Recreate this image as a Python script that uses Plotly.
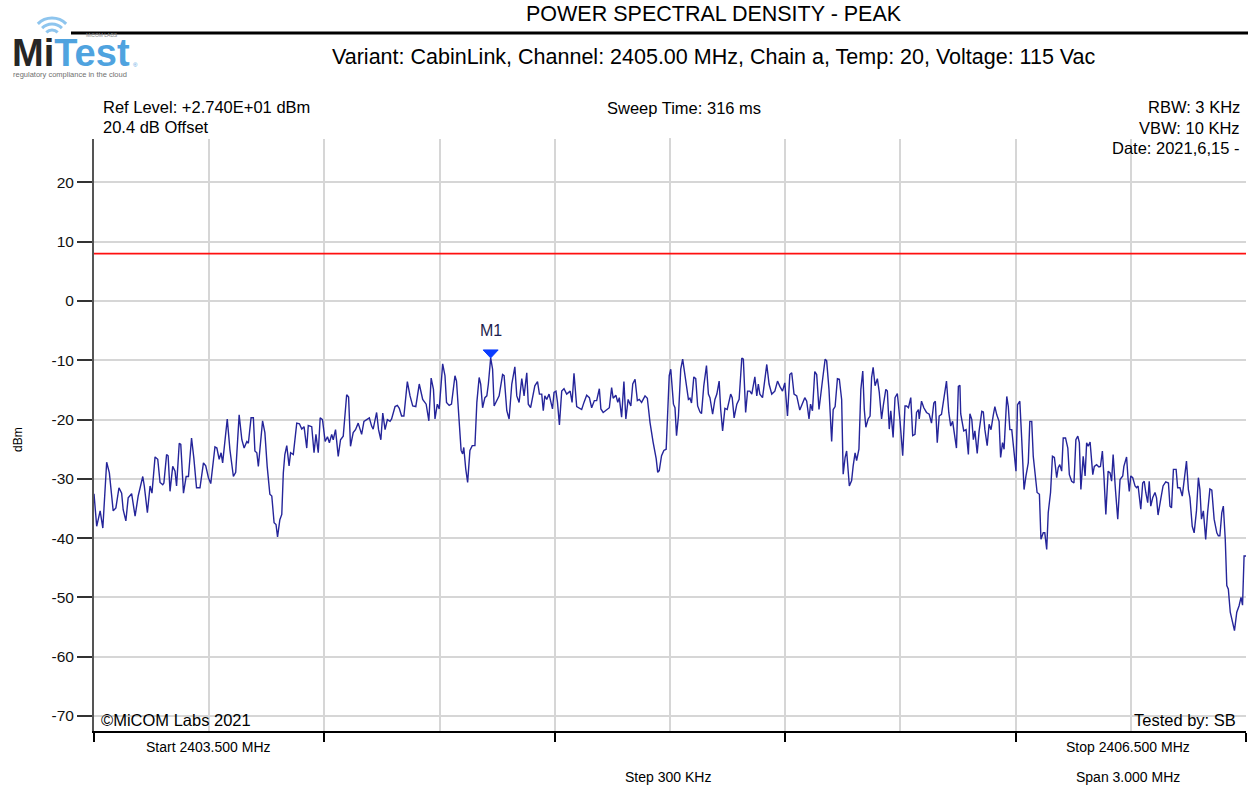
import plotly.graph_objects as go

# ---------------- data ----------------
start_mhz = 2403.5
stop_mhz = 2406.5
center_mhz = 2405.0
limit_dbm = 8.0
ref_level_dbm = 27.4

offset_khz = [
    0, 7, 16, 23, 33, 40, 50, 57, 65, 72, 76, 83, 89, 98, 107, 115, 127, 131, 139, 146,
    151, 159, 166, 172, 179, 182, 189, 193, 198, 205, 211, 215, 222, 226, 233, 240, 246, 254, 260, 267,
    276, 285, 291, 298, 304, 315, 320, 326, 331, 335, 347, 354, 363, 369, 378, 385, 391, 398, 402, 409,
    415, 419, 424, 428, 439, 445, 451, 458, 463, 469, 474, 478, 484, 489, 493, 497, 502, 508, 512, 519,
    528, 535, 541, 547, 554, 558, 567, 573, 578, 584, 589, 595, 602, 608, 613, 619, 623, 629, 636, 642,
    649, 658, 663, 668, 675, 681, 688, 697, 703, 710, 717, 723, 727, 736, 741, 747, 752, 758, 764, 771,
    775, 784, 790, 795, 801, 807, 816, 823, 830, 838, 847, 856, 865, 872, 878, 884, 888, 894, 899, 908,
    914, 918, 925, 931, 940, 944, 950, 956, 960, 963, 968, 973, 979, 985, 992, 997, 1003, 1007, 1012, 1018,
    1023, 1027, 1033, 1038, 1042, 1049, 1055, 1064, 1068, 1075, 1081, 1088, 1096, 1101, 1107, 1114, 1120, 1127, 1131, 1137,
    1144, 1148, 1155, 1160, 1166, 1170, 1174, 1179, 1185, 1190, 1194, 1198, 1203, 1207, 1212, 1218, 1224, 1231, 1240, 1245,
    1250, 1257, 1264, 1270, 1276, 1283, 1290, 1296, 1303, 1309, 1316, 1320, 1326, 1333, 1342, 1348, 1352, 1359, 1364, 1368,
    1374, 1380, 1385, 1391, 1398, 1403, 1409, 1415, 1420, 1426, 1435, 1441, 1448, 1456, 1464, 1468, 1472, 1478, 1484, 1490,
    1494, 1498, 1502, 1509, 1513, 1517, 1522,
    1528, 1533, 1539, 1548, 1552, 1556, 1562, 1567, 1572, 1578, 1582, 1588, 1595, 1600, 1604, 1611, 1617, 1622, 1628, 1632,
    1637, 1643, 1649, 1658, 1662, 1667, 1674, 1680, 1687, 1691, 1697, 1702, 1708, 1713, 1721, 1726, 1730, 1734, 1741, 1746,
    1752, 1758, 1765, 1773, 1780, 1786, 1793, 1799, 1806, 1812, 1817, 1823, 1830, 1838, 1845, 1851, 1856, 1862, 1866, 1871,
    1877, 1882, 1888, 1893, 1898, 1904, 1908, 1914, 1921, 1925, 1930, 1936, 1941, 1947, 1951, 1956, 1960, 1967, 1973, 1977,
    1982, 1986, 1992, 1997, 2002, 2006, 2010, 2016, 2021, 2025, 2029, 2034, 2040, 2045, 2051, 2056, 2062, 2066, 2071, 2075,
    2081, 2086, 2092, 2099, 2106, 2112, 2116, 2121, 2127, 2132, 2138, 2142, 2147, 2149, 2155, 2161, 2168, 2175, 2181, 2187,
    2191, 2196, 2201, 2207, 2213, 2220, 2226, 2231, 2236, 2242, 2246, 2251, 2255,
    2257, 2262, 2265, 2271, 2277, 2281, 2286, 2290, 2294, 2300, 2305, 2312, 2316, 2320, 2326, 2331, 2336, 2342, 2346, 2351,
    2357, 2361, 2366, 2370, 2377, 2381, 2385, 2390, 2394, 2401, 2405, 2411, 2416, 2422, 2427, 2433, 2437, 2442, 2446, 2452,
    2456, 2462, 2466, 2472, 2476, 2481, 2485, 2491, 2496, 2501, 2507, 2511, 2515, 2520, 2524, 2530, 2536, 2540, 2546, 2552,
    2557, 2562, 2566, 2570, 2576, 2581, 2585, 2589, 2594, 2601, 2605, 2611, 2617, 2621, 2626, 2630, 2635, 2641, 2646, 2650,
    2654, 2660, 2666, 2672, 2679, 2682, 2689, 2693, 2696, 2700, 2705, 2711, 2715, 2719, 2726, 2731, 2735, 2739, 2744, 2748,
    2752, 2757, 2763, 2767, 2771, 2778, 2784, 2791, 2798, 2802, 2806, 2811, 2818, 2822, 2828, 2834, 2840, 2845, 2850, 2854,
    2860, 2865, 2871, 2876, 2880, 2884, 2889, 2895, 2900, 2906, 2911, 2917, 2924, 2928, 2932, 2937, 2941, 2946, 2950, 2954,
    2959, 2964, 2970, 2976, 2982, 2987, 2991, 2995, 3000,
]

level_dbm = [
    -32.5, -38.0, -35.4, -38.3, -27.2, -29.0, -35.4, -34.9, -31.5, -32.4, -35.2, -37.1, -33.2, -32.5, -36.3, -32.9, -29.6, -31.2, -35.7, -31.2,
    -32.4, -26.3, -26.7, -30.6, -31.0, -30.7, -25.9, -26.1, -32.1, -27.9, -28.7, -31.2, -24.0, -24.2, -32.4, -29.6, -29.6, -23.1, -26.5, -31.5,
    -31.5, -27.3, -27.8, -29.8, -30.8, -24.6, -24.8, -26.7, -25.6, -27.3, -19.9, -25.1, -29.6, -28.9, -19.2, -23.4, -24.8, -23.7, -24.0, -19.7,
    -19.7, -25.3, -25.6, -27.9, -20.2, -22.2, -27.9, -32.6, -32.9, -37.4, -37.7, -39.8, -36.9, -36.0, -29.0, -25.9, -24.4, -27.8, -25.6, -25.9,
    -20.6, -20.7, -21.6, -21.2, -24.8, -21.0, -21.2, -25.6, -22.5, -25.6, -19.7, -20.0, -23.7, -22.9, -23.9, -22.5, -23.4, -21.7, -26.2, -23.4,
    -22.8, -15.8, -16.2, -24.5, -22.2, -21.7, -20.6, -22.5, -20.3, -20.0, -19.7, -21.1, -21.6, -18.8, -21.7, -23.4, -18.9, -21.7, -20.0, -20.3,
    -19.9, -17.8, -17.6, -18.1, -19.4, -19.4, -13.6, -16.0, -17.7, -17.8, -14.0, -16.6, -17.4, -20.2, -13.0, -14.9, -19.9, -17.4, -18.2, -10.6,
    -12.6, -17.1, -17.6, -17.4, -12.6, -13.5, -19.4, -25.2, -25.8, -24.7, -28.3, -30.6, -25.2, -24.4, -24.4, -17.1, -12.9, -14.0, -18.0, -16.3,
    -16.0, -14.0, -9.6, -11.5, -17.7, -16.8, -16.0, -12.4, -12.6, -18.5, -19.9, -14.0, -11.1, -16.0, -17.1, -13.1, -16.0, -12.1, -17.4, -18.0,
    -15.4, -14.3, -13.6, -15.7, -15.7, -18.5, -16.0, -16.6, -15.7, -17.1, -18.2, -15.4, -15.2, -17.1, -20.9, -15.2, -14.8, -15.7, -15.2, -17.1,
    -12.2, -17.8, -18.0, -18.3, -17.1, -15.9, -16.3, -18.0, -16.8, -16.8, -14.8, -18.2, -18.8, -18.5, -18.0, -14.6, -16.4, -15.9, -17.1, -16.3,
    -19.6, -13.6, -19.9, -16.6, -17.7, -14.0, -13.2, -16.8, -16.6, -17.1, -16.0, -16.4, -20.5, -23.8, -26.6, -28.9, -28.6, -26.1, -25.2, -25.0,
    -19.9, -12.6, -11.5, -17.4, -18.0, -22.7, -19.4,
    -11.5, -9.8, -12.6, -16.6, -16.4, -17.2, -12.8, -13.1, -17.7, -18.7, -19.0, -14.3, -10.9, -15.7, -16.3, -19.1, -16.6, -15.7, -13.5, -18.3,
    -21.9, -18.1, -18.3, -15.7, -16.3, -19.7, -17.4, -16.6, -9.6, -9.8, -18.8, -15.2, -15.2, -15.7, -12.8, -16.0, -14.0, -15.7, -16.3, -14.0,
    -10.7, -14.0, -15.7, -15.2, -13.5, -14.4, -15.2, -13.8, -19.4, -12.4, -12.1, -15.7, -16.0, -18.4, -17.4, -16.3, -16.9, -19.9, -17.4, -18.5,
    -11.9, -12.4, -18.3, -16.0, -12.9, -9.8, -10.1, -14.9, -23.7, -18.3, -17.8, -13.1, -13.2, -16.6, -29.2, -26.4, -25.3, -31.2, -30.3, -27.8,
    -25.6, -26.9, -25.0, -14.9, -11.8, -18.3, -21.3, -19.9, -19.4, -12.9, -11.2, -14.3, -13.1, -15.4, -19.9, -17.4, -14.9, -15.2, -21.6, -18.5,
    -23.0, -16.3, -15.6, -20.2, -26.1, -17.7, -17.7, -18.0, -16.3, -22.7, -22.5, -18.8, -18.3, -19.9, -16.9, -18.0, -18.8, -19.1, -20.6, -17.2,
    -16.9, -23.9, -19.4, -19.1, -16.6, -13.5, -18.8, -21.1, -20.3, -22.8, -24.8, -14.4, -14.2,
    -19.0, -20.8, -21.9, -21.7, -25.9, -19.0, -20.0, -23.4, -21.9, -25.7, -21.9, -18.6, -18.7, -21.7, -24.4, -20.8, -21.7, -19.2, -17.8, -19.2,
    -20.3, -26.4, -23.9, -25.0, -16.1, -17.8, -21.7, -21.7, -24.5, -28.7, -17.5, -16.9, -23.4, -31.8, -29.5, -27.3, -20.3, -20.3, -26.2, -30.7,
    -32.3, -32.6, -40.2, -39.1, -39.1, -41.9, -35.7, -32.3, -26.2, -26.4, -29.8, -28.1, -27.6, -28.7, -23.1, -23.1, -24.8, -29.3, -30.4, -30.7,
    -23.4, -22.8, -23.9, -31.8, -26.2, -29.5, -23.9, -24.5, -23.8, -29.3, -27.9, -27.6, -28.0, -27.9, -25.3, -29.5, -36.0, -28.7, -29.0, -30.4,
    -25.9, -31.8, -36.8, -30.1, -29.5, -27.9, -26.3, -30.1, -32.1, -29.5, -29.8, -31.2, -31.5, -31.2, -35.1, -30.7, -30.4, -32.3, -34.0, -30.4,
    -34.6, -33.2, -32.3, -33.2, -36.1, -33.4, -31.2, -30.5, -30.7, -34.6, -34.9, -28.4, -28.4, -31.5, -31.5, -32.9, -29.5, -27.0, -31.8, -33.2,
    -38.0, -39.1, -35.4, -29.8, -31.8, -36.8, -35.4, -40.2, -35.7, -31.7, -31.9, -36.8, -39.1, -39.6, -39.6, -35.7, -34.6, -40.2, -48.0, -48.6,
    -52.5, -53.9, -55.6, -52.5, -51.4, -50.0, -51.3, -43.0, -43.0,
]

marker_offset_khz = 1033
marker_level_dbm = -9.6

x_grid_major = [2403.5, 2404.1, 2404.7, 2405.3, 2405.9, 2406.5]
y_ticks = [-70, -60, -50, -40, -30, -20, -10, 0, 10, 20]
y_tick_text = ["-70", "-60", "-50", "-40", "-30", "-20", "-10", "0", "10", "20"]

freq_mhz = [start_mhz + k / 1000.0 for k in offset_khz]
marker_mhz = start_mhz + marker_offset_khz / 1000.0

# ---------------- layout helpers ----------------
W, H = 1248, 788
FONT = "Liberation Sans, Arial, sans-serif"


def px(x):
    return x / W


def py(y):
    return 1 - y / H


annotations = []


def label(text, x, y, xanchor="left", size=16.5, color="#000000", family=FONT, **kw):
    annotations.append(dict(
        text=text, x=px(x), y=py(y), xref="paper", yref="paper",
        xanchor=xanchor, yanchor="middle", showarrow=False,
        font=dict(family=family, size=size, color=color), **kw))


fig = go.Figure()

# limit line
fig.add_trace(go.Scatter(
    x=[start_mhz, stop_mhz], y=[limit_dbm, limit_dbm], mode="lines",
    line=dict(color="#ff1010", width=1.6), hoverinfo="skip", showlegend=False))

# spectrum trace
fig.add_trace(go.Scatter(
    x=freq_mhz, y=level_dbm, mode="lines",
    line=dict(color="#25259a", width=1.4), showlegend=False))

shapes = []
# centre frequency line
shapes.append(dict(type="line", xref="x", yref="y domain", x0=center_mhz, x1=center_mhz,
                   y0=0, y1=1, line=dict(color="#b4b4b4", width=2), layer="below"))
# marker triangle (pixel-sized, anchored on marker value)
shapes.append(dict(type="path", xref="x", yref="y", xsizemode="pixel", ysizemode="pixel",
                   xanchor=marker_mhz, yanchor=marker_level_dbm,
                   path="M -7.5,8 L 7.5,8 L 0,0 Z",
                   fillcolor="#0a3cff", line=dict(color="#0a3cff", width=1)))
# header rule
shapes.append(dict(type="line", xref="paper", yref="paper", x0=px(71), x1=px(1248),
                   y0=py(33), y1=py(33), line=dict(color="#000000", width=3)))

# logo wifi arcs
cx, cy = 52, 38
for r in (8, 14, 20):
    a = r * 0.7071
    k = 0.5523 * r
    p0 = (cx - a, cy - a)
    p3 = (cx + a, cy - a)
    p1 = (p0[0] + k * 0.7071, p0[1] - k * 0.7071)
    p2 = (p3[0] - k * 0.7071, p3[1] - k * 0.7071)
    path = "M {:.5f},{:.5f} C {:.5f},{:.5f} {:.5f},{:.5f} {:.5f},{:.5f}".format(
        px(p0[0]), py(p0[1]), px(p1[0]), py(p1[1]), px(p2[0]), py(p2[1]), px(p3[0]), py(p3[1]))
    shapes.append(dict(type="path", xref="paper", yref="paper", path=path,
                       line=dict(color="#8ec5ee", width=3)))

# logo text
label("<b>Mi<span style='color:#4fa3df'>Test</span></b>", 10, 53, size=38, color="#262626")
label("MiCOM LABS", 84, 35, size=5, color="#888888")
label("®", 131, 65, size=6, color="#4fa3df")
label("regulatory compliance in the cloud", 11, 74, size=7.5, color="#707070")

# header texts
label("POWER SPECTRAL DENSITY - PEAK", 714, 14, xanchor="center", size=21.5)
label("Variant: CabinLink, Channel: 2405.00 MHz, Chain a, Temp: 20, Voltage: 115 Vac", 714, 57,
      xanchor="center", size=21.5)

# instrument settings
label("Ref Level: +2.740E+01 dBm", 101, 107)
label("20.4 dB Offset", 101, 127)
label("Sweep Time: 316 ms", 684, 108, xanchor="center")
label("RBW: 3 KHz", 1242, 107, xanchor="right")
label("VBW: 10 KHz", 1242, 128, xanchor="right")
label("Date: 2021,6,15 -", 1242, 148, xanchor="right")
label("©MiCOM Labs 2021", 99, 720)
label("Tested by: SB", 1238, 720, xanchor="right")

# frequency axis captions
label("Start 2403.500 MHz", 208, 747, xanchor="center", size=14)
label("Stop 2406.500 MHz", 1128, 747, xanchor="center", size=14)
label("Step 300 KHz", 668, 777, xanchor="center", size=14)
label("Span 3.000 MHz", 1128, 777, xanchor="center", size=14)

# y title
label("dBm", 18, 440, xanchor="center", size=12, textangle=-90)

# marker label
annotations.append(dict(text="M1", x=marker_mhz, y=marker_level_dbm, xref="x", yref="y",
                        xanchor="center", yanchor="bottom", yshift=17, showarrow=False,
                        font=dict(family=FONT, size=16, color="#1e1e4e")))

grid_col = "#d6d6d6"
fig.update_layout(
    width=W, height=H,
    margin=dict(l=0, r=0, t=0, b=0),
    paper_bgcolor="white", plot_bgcolor="white",
    font=dict(family=FONT, size=15, color="#000000"),
    shapes=shapes, annotations=annotations,
    xaxis=dict(
        domain=[px(94), px(1246)], range=[start_mhz, stop_mhz],
        tickvals=x_grid_major, showticklabels=False,
        ticks="outside", ticklen=9, tickwidth=1.5, tickcolor="#000000",
        showgrid=True, gridcolor=grid_col, gridwidth=1.5,
        minor=dict(tick0=start_mhz, dtick=0.3, showgrid=True, gridcolor=grid_col,
                   gridwidth=1.5, ticks=""),
        showline=True, linecolor="#000000", linewidth=1.5, zeroline=False,
    ),
    yaxis=dict(
        domain=[py(731.4), py(138.6)], range=[-72.6, ref_level_dbm],
        tickvals=y_ticks, ticktext=y_tick_text,
        ticks="outside", ticklen=15, tickwidth=1.5, tickcolor="#333333",
        tickfont=dict(size=15.5, color="#111111"),
        showgrid=True, gridcolor=grid_col, gridwidth=1.5,
        showline=True, linecolor="#555555", linewidth=2, zeroline=False,
    ),
)

fig.write_html("out.html")
